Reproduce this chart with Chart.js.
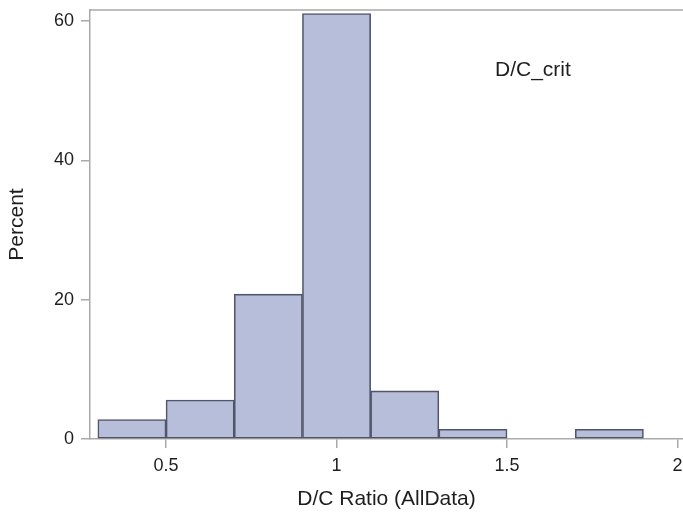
<!DOCTYPE html>
<html lang="en">
<head>
    <meta charset="UTF-8">
    <title>D/C Ratio histogram</title>
    <script src="https://cdn.jsdelivr.net/npm/chart.js"></script>
    <style>
        body { margin: 0; background: #fff; }
    </style>
</head>
<body>
    <canvas id="histChart" width="683" height="515"></canvas>

    <script>
        // bin midpoints (width 0.2) and percent per bin
        const binCenters = [0.4, 0.6, 0.8, 1.0, 1.2, 1.4, 1.6, 1.8];
        const percentValues = [2.8, 5.6, 20.8, 61.1, 6.9, 1.4, 0, 1.4];

        const xTickValues = [0.5, 1, 1.5, 2];
        const yTickValues = [0, 20, 40, 60];

        const insetLabel = 'D/C_crit';
        const xTitle = 'D/C Ratio (AllData)';
        const yTitle = 'Percent';

        const axisGray = '#a9a9a9';
        const textColor = '#1e1e1e';
        const fontFamily = '"Liberation Sans", Arial, sans-serif';

        const points = binCenters.map((x, i) => ({ x: x, y: percentValues[i] }));

        // top frame line + inset text
        const framePlugin = {
            id: 'frame',
            afterDraw(chart) {
                const { ctx, chartArea } = chart;
                ctx.save();
                ctx.strokeStyle = axisGray;
                ctx.lineWidth = 1.5;
                ctx.beginPath();
                ctx.moveTo(chartArea.left, chartArea.top);
                ctx.lineTo(chart.width, chartArea.top);
                ctx.stroke();

                ctx.fillStyle = textColor;
                ctx.font = '21px ' + fontFamily;
                ctx.textAlign = 'left';
                ctx.textBaseline = 'middle';
                ctx.fillText(insetLabel, chartArea.right - 188, chartArea.top + 60);
                ctx.restore();
            }
        };

        const ctx = document.getElementById('histChart').getContext('2d');

        new Chart(ctx, {
            type: 'bar',
            data: {
                datasets: [{
                    data: points,
                    backgroundColor: '#b7bed9',
                    borderColor: '#50556a',
                    borderWidth: (c) => (c.raw && c.raw.y === 0 ? 0 : 1.6),
                    borderSkipped: false,
                    barPercentage: 1,
                    categoryPercentage: 1,
                }]
            },
            options: {
                responsive: false,
                animation: false,
                layout: { padding: { top: 10, right: 0, left: 0, bottom: 0 } },
                plugins: {
                    legend: { display: false },
                    tooltip: { enabled: false }
                },
                scales: {
                    x: {
                        type: 'linear',
                        min: 0.277,
                        max: 2.016,
                        offset: false,
                        afterBuildTicks: (scale) => {
                            scale.ticks = xTickValues.map(v => ({ value: v }));
                        },
                        afterFit: (scale) => {
                            scale.height = 76;
                            scale.paddingLeft = 0;
                            scale.paddingRight = 0;
                        },
                        grid: {
                            offset: false,
                            drawOnChartArea: false,
                            color: axisGray,
                            lineWidth: 1.5,
                            tickLength: 9
                        },
                        border: { color: axisGray, width: 1.5 },
                        ticks: {
                            color: textColor,
                            padding: 7,
                            maxRotation: 0,
                            font: { family: fontFamily, size: 18 },
                            callback: (v) => String(v)
                        },
                        title: {
                            display: true,
                            text: xTitle,
                            color: textColor,
                            padding: { top: 0, bottom: 3 },
                            font: { family: fontFamily, size: 21 }
                        }
                    },
                    y: {
                        min: 0,
                        max: 61.6,
                        afterBuildTicks: (scale) => {
                            scale.ticks = yTickValues.map(v => ({ value: v }));
                        },
                        afterFit: (scale) => {
                            scale.width = 90;
                            scale.paddingTop = 0;
                            scale.paddingBottom = 0;
                        },
                        grid: {
                            drawOnChartArea: false,
                            color: axisGray,
                            lineWidth: 1.5,
                            tickLength: 9
                        },
                        border: { color: axisGray, width: 1.5 },
                        ticks: {
                            color: textColor,
                            padding: 7,
                            font: { family: fontFamily, size: 18 }
                        },
                        title: {
                            display: true,
                            text: yTitle,
                            color: textColor,
                            padding: { top: 5, bottom: 0 },
                            font: { family: fontFamily, size: 21 }
                        }
                    }
                }
            },
            plugins: [framePlugin]
        });
    </script>
</body>
</html>
